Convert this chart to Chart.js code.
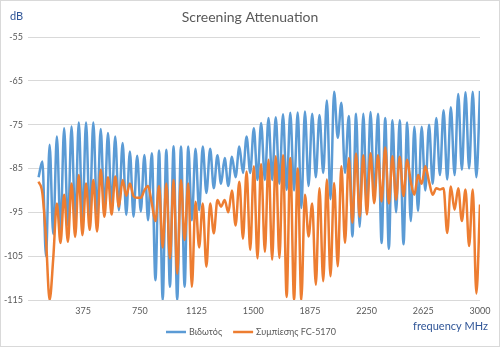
<!DOCTYPE html>
<html>
<head>
<meta charset="utf-8">
<script src="https://cdn.jsdelivr.net/npm/chart.js@4.4.1/dist/chart.umd.min.js"></script>
<style>
  html, body { margin: 0; padding: 0; background: #fff; }
  canvas { display: block; }
</style>
</head>
<body>
<canvas id="chart" width="500" height="347"></canvas>
<script>
// frequency grid (MHz)
const freqMHz = [
  80, 105, 129, 153, 177, 201, 225, 249, 274, 298,
  322, 346, 370, 394, 418, 442, 467, 491, 515, 539,
  563, 587, 611, 636, 660, 684, 708, 732, 756, 780,
  804, 829, 853, 877, 901, 925, 949, 973, 997, 1022,
  1046, 1070, 1094, 1118, 1142, 1166, 1190, 1215, 1239, 1263,
  1287, 1311, 1335, 1359, 1383, 1408, 1432, 1456, 1480, 1504,
  1528, 1552, 1577, 1601, 1625, 1649, 1673, 1697, 1721, 1745,
  1770, 1794, 1818, 1842, 1866, 1890, 1914, 1938, 1963, 1987,
  2011, 2035, 2059, 2083, 2107, 2132, 2156, 2180, 2204, 2228,
  2252, 2276, 2300, 2325, 2349, 2373, 2397, 2421, 2445, 2469,
  2494, 2518, 2542, 2566, 2590, 2614, 2638, 2663, 2687, 2711,
  2735, 2759, 2783, 2807, 2832, 2856, 2880, 2904, 2928, 2952,
  2976, 3000
];

// Βιδωτός (dB)
const bidotos = [
  -87, -83.4, -105, -79.6, -100, -77.7, -99, -75.8, -98, -75.4,
  -97, -74.5, -96.5, -74.5, -96, -74.5, -95.5, -76, -94.5, -76.9,
  -93.7, -77.7, -94.5, -79.2, -95.6, -81.1, -96, -82.1, -94.8, -81.9,
  -96.8, -81.5, -110.5, -80.9, -115, -80.7, -112, -79.9, -115, -80,
  -112, -80, -96.8, -80.5, -94.5, -80, -90.6, -80.5, -89.5, -82,
  -88.5, -82.6, -89, -82.3, -87, -80, -86, -77.7, -86, -75.8,
  -87.6, -74.6, -87.6, -73.5, -87.6, -73.3, -88.5, -72.6, -89.9, -72.3,
  -90, -72.2, -94, -72, -89, -72.5, -87, -72.8, -86, -69.5,
  -92, -67.5, -78, -70, -86, -73, -100.5, -72.5, -98.3, -72.5,
  -93.5, -72.1, -91.5, -72.5, -102, -73.5, -103.3, -74, -95, -74,
  -102.3, -74.5, -97, -75.5, -94.7, -75.5, -90, -75, -88.5, -73.5,
  -86.5, -71.7, -87.5, -71, -86.5, -68, -85.3, -67.6, -85, -67.5,
  -87, -67.3
];

// Συμπίεσης FC-5170 (dB)
const sympiesis = [
  -88, -90.6, -101, -115, -105.5, -93, -102, -91, -101.7, -88.4,
  -100.6, -86.5, -100.2, -88.4, -99, -87.6, -99.4, -85.3, -96, -87,
  -95.5, -86.8, -93.7, -87.6, -91.2, -88.4, -91.3, -91.7, -91.7, -90,
  -89, -93, -97, -89, -103, -88.4, -105.5, -87.6, -109, -87.6,
  -101.3, -88.4, -112, -92.6, -103, -93, -107.4, -93, -99.8, -92.2,
  -93.7, -92.2, -95, -90, -98, -88, -101, -85.7, -103.6, -84.5,
  -105.5, -84, -104, -83, -105.8, -82.2, -105.4, -82, -114.3, -82.6,
  -115, -85, -115, -91, -100.5, -93, -111.5, -89.5, -110.7, -87.5,
  -109.6, -88.3, -107.3, -84.5, -102, -82.6, -97.4, -81.6, -96, -82,
  -95.5, -81.5, -92.9, -82, -92.5, -80.2, -93, -82.2, -92.1, -82.3,
  -91.3, -83, -88, -91, -86.5, -88.5, -84.5, -88, -91, -89.5,
  -89.8, -89.5, -99.7, -89.1, -94.4, -89.5, -97, -89.8, -102.7, -89.8,
  -113.5, -93.2
];

const xTickValues = [375, 750, 1125, 1500, 1875, 2250, 2625, 3000];
const seriesNames = ['Βιδωτός', 'Συμπίεσης FC-5170'];

const FONT = 'Lato, "Open Sans", "Noto Sans", sans-serif';
const GREY = '#595959';
const AXIS_BLUE = '#2f5597';

const decor = {
  id: 'decor',
  beforeDraw(chart) {
    const ctx = chart.ctx;
    ctx.save();
    ctx.fillStyle = '#fff';
    ctx.fillRect(0, 0, chart.width, chart.height);
    ctx.strokeStyle = '#d9d9d9';
    ctx.lineWidth = 1;
    ctx.strokeRect(0.5, 0.5, chart.width - 1, chart.height - 1);
    ctx.restore();
  },
  afterDraw(chart) {
    const ctx = chart.ctx;
    const area = chart.chartArea;
    ctx.save();
    ctx.textBaseline = 'middle';

    ctx.fillStyle = GREY;
    ctx.font = '14px ' + FONT;
    ctx.textAlign = 'center';
    ctx.fillText('Screening Attenuation', 250, 17);

    ctx.fillStyle = AXIS_BLUE;
    ctx.font = '11px ' + FONT;
    ctx.textAlign = 'left';
    ctx.fillText('dB', 10, 16);
    ctx.textAlign = 'right';
    ctx.fillText('frequency MHz', area.right + 8, 326);

    // legend
    ctx.font = '9px ' + FONT;
    ctx.textAlign = 'left';
    const items = chart.data.datasets.map(d => ({ label: d.label, color: d.borderColor, w: ctx.measureText(d.label).width }));
    const lineLen = 20, gap = 3, itemGap = 11;
    let total = 0;
    items.forEach((it, i) => { total += lineLen + gap + it.w + (i ? itemGap : 0); });
    let x = 251 - total / 2;
    const y = 332;
    items.forEach((it, i) => {
      if (i) x += itemGap;
      ctx.strokeStyle = it.color;
      ctx.lineWidth = 2.5;
      ctx.beginPath();
      ctx.moveTo(x, y);
      ctx.lineTo(x + lineLen, y);
      ctx.stroke();
      x += lineLen + gap;
      ctx.fillStyle = GREY;
      ctx.fillText(it.label, x, y);
      x += it.w;
    });
    ctx.restore();
  }
};

new Chart(document.getElementById('chart'), {
  type: 'line',
  data: {
    datasets: [
      {
        label: seriesNames[0],
        data: freqMHz.map((f, i) => ({ x: f, y: bidotos[i] })),
        borderColor: '#5b9bd5',
        borderWidth: 2.5,
        pointRadius: 0,
        cubicInterpolationMode: 'monotone',
        order: 1
      },
      {
        label: seriesNames[1],
        data: freqMHz.map((f, i) => ({ x: f, y: sympiesis[i] })),
        borderColor: '#ed7d31',
        borderWidth: 2.5,
        pointRadius: 0,
        cubicInterpolationMode: 'monotone',
        order: 0
      }
    ]
  },
  options: {
    responsive: false,
    animation: false,
    layout: { padding: { top: 37, right: 20, left: 0, bottom: 0 } },
    plugins: { legend: { display: false }, tooltip: { enabled: false }, title: { display: false } },
    scales: {
      x: {
        type: 'linear',
        min: 10,
        max: 3000,
        afterBuildTicks: s => { s.ticks = xTickValues.map(v => ({ value: v })); },
        afterFit: s => { s.height = 47; },
        grid: { display: false, drawTicks: false },
        border: { display: false },
        ticks: { color: GREY, font: { family: FONT, size: 9 }, padding: 6, maxRotation: 0, autoSkip: false, callback: v => String(v) }
      },
      y: {
        min: -115,
        max: -55,
        afterFit: s => { s.width = 28; },
        grid: { color: '#d9d9d9', drawTicks: false },
        border: { display: false },
        ticks: { stepSize: 10, color: GREY, font: { family: FONT, size: 9 }, padding: 5, callback: v => String(v) }
      }
    }
  },
  plugins: [decor]
});
</script>
</body>
</html>
